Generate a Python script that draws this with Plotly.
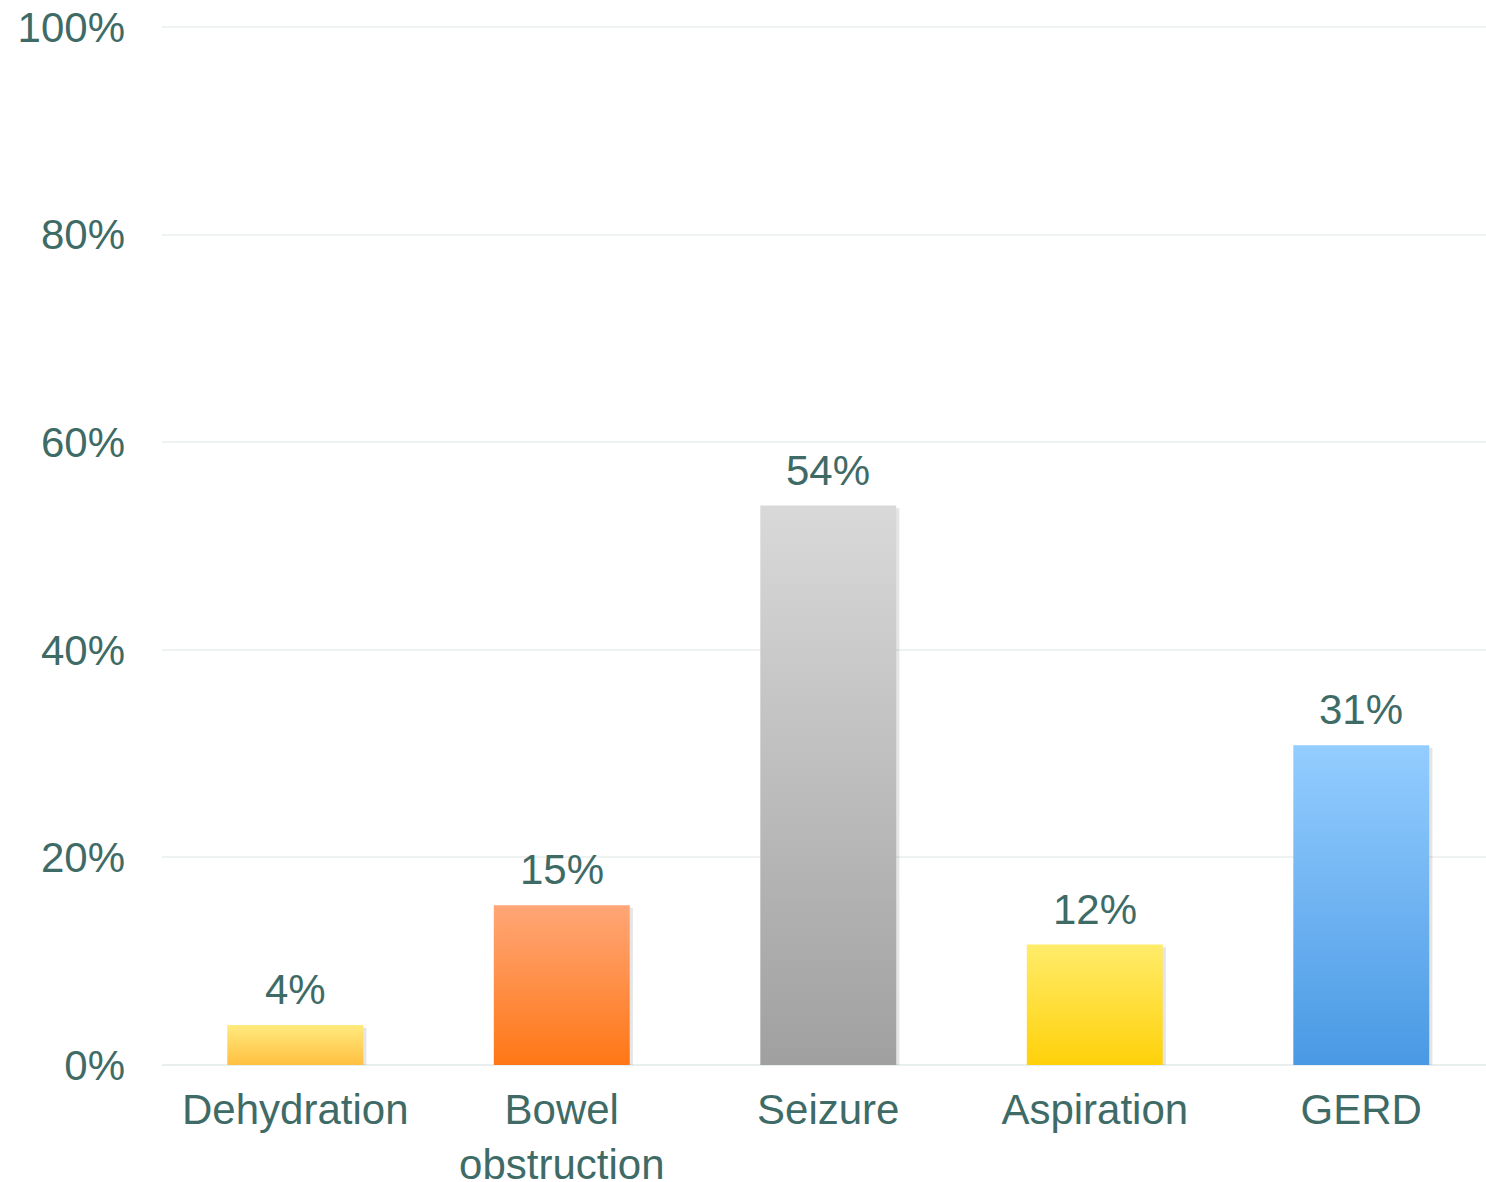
import plotly.graph_objects as go

categories = ["Dehydration", "Bowel<br>obstruction", "Seizure", "Aspiration", "GERD"]
values = [3.85, 15.4, 53.9, 11.6, 30.8]
top_colors = ["#FFEA7E", "#FFA677", "#D9D9D9", "#FFEC6A", "#94CDFF"]
bottom_colors = ["#FFC040", "#FF7716", "#A0A0A0", "#FFD10A", "#4999E4"]
y_ticks = [0, 20, 40, 60, 80, 100]
y_ticktext = ["0%", "20%", "40%", "60%", "80%", "100%"]

TEXT = "#3F6B67"
FONT = "Liberation Sans, Arial, sans-serif"
half = 0.255

fig = go.Figure()

for i, (v, tc, bc) in enumerate(zip(values, top_colors, bottom_colors)):
    # soft shadow
    fig.add_trace(go.Scatter(
        x=[i - half + 0.012, i + half + 0.012, i + half + 0.012, i - half + 0.012, i - half + 0.012],
        y=[0, 0, v - 0.25, v - 0.25, 0],
        mode="lines", line=dict(width=0), fill="toself",
        fillcolor="rgba(0,0,0,0.10)", hoverinfo="skip", showlegend=False,
    ))
    fig.add_trace(go.Scatter(
        x=[i - half, i + half, i + half, i - half, i - half],
        y=[0, 0, v, v, 0],
        mode="lines", line=dict(width=0), fill="toself",
        fillgradient=dict(type="vertical", colorscale=[[0, bc], [1, tc]]),
        hoverinfo="skip", showlegend=False,
    ))
    fig.add_annotation(
        x=i, y=v, text=f"{round(v)}%", showarrow=False,
        yanchor="bottom", yshift=10,
        font=dict(family=FONT, size=42, color=TEXT),
    )

fig.update_layout(
    width=1486, height=1182,
    margin=dict(l=162, r=0, t=25, b=117),
    paper_bgcolor="white", plot_bgcolor="white",
    showlegend=False,
    font=dict(family=FONT, size=42, color=TEXT),
    xaxis=dict(
        range=[-0.5, 4.468], tickvals=list(range(len(categories))), ticktext=categories,
        showgrid=False, zeroline=False, showline=False, ticks="",
        tickfont=dict(family=FONT, size=42, color=TEXT),
        ticklabelstandoff=16, automargin=False,
    ),
    yaxis=dict(
        range=[0, 100.2], tickvals=y_ticks, ticktext=y_ticktext,
        showgrid=True, gridcolor="#EEF3F2", gridwidth=2,
        zeroline=True, zerolinecolor="#E8EFEE", zerolinewidth=2,
        showline=False, ticks="",
        tickfont=dict(family=FONT, size=42, color=TEXT),
        ticklabelstandoff=36, automargin=False,
    ),
)

fig.write_html("out.html")
